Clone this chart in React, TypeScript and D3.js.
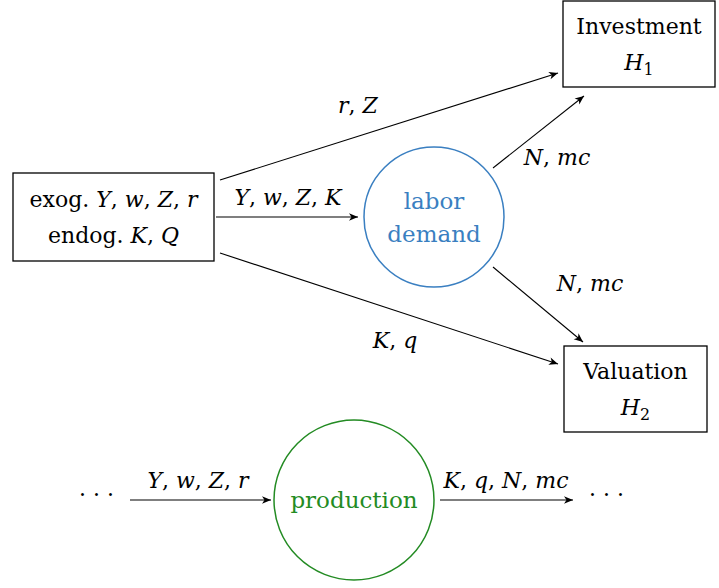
import React from "react";
import * as d3 from "d3";

// ---- data ----
const boxes = [
  { id: "input", x0: 13, y0: 173, x1: 214, y1: 261, lines: ["exog. |Y, w, Z, r", "endog. |K, Q"] },
  { id: "invest", x0: 563, y0: 1, x1: 715, y1: 87, lines: ["Investment", "|H_1"] },
  { id: "valuation", x0: 564, y0: 346, x1: 707, y1: 432, lines: ["Valuation", "|H_2"] },
];

const circles = [
  { id: "labor", cx: 434, cy: 217, r: 70, color: "#3a7fc1", lines: ["labor", "demand"] },
  { id: "production", cx: 354, cy: 500, r: 80, color: "#238b23", lines: ["production"] },
];

const edges = [
  { x0: 220, y0: 180, x1: 558, y1: 73, label: "|r, Z", lx: 358, ly: 105 },
  { x0: 216, y0: 217, x1: 358, y1: 217, label: "|Y, w, Z, K", lx: 288, ly: 197 },
  { x0: 220, y0: 253, x1: 558, y1: 364, label: "|K, q", lx: 395, ly: 340 },
  { x0: 493, y0: 168, x1: 584, y1: 96, label: "|N, mc", lx: 557, ly: 157 },
  { x0: 493, y0: 267, x1: 583, y1: 342, label: "|N, mc", lx: 590, ly: 283 },
  { x0: 130, y0: 500, x1: 271, y1: 500, label: "|Y, w, Z, r", lx: 198, ly: 480 },
  { x0: 440, y0: 500, x1: 573, y1: 500, label: "|K, q, N, mc", lx: 506, ly: 480 },
];

const dots = [
  { x: 97, y: 500 },
  { x: 607, y: 500 },
];

const FONT = "'DejaVu Serif', 'Liberation Serif', serif";
const FS = 22;
const FS_CIRCLE = 23;

// text: part before "|" is upright, part after is math (italic letters, upright commas, _ subscripts)
function renderText(s: string) {
  const idx = s.indexOf("|");
  const upright = idx >= 0 ? s.slice(0, idx) : s;
  const math = idx >= 0 ? s.slice(idx + 1) : "";
  const out: React.ReactNode[] = [];
  if (upright) out.push(<tspan key="u">{upright}</tspan>);
  let k = 0;
  for (let i = 0; i < math.length; i++) {
    const c = math[i];
    if (c === "_") {
      const sub = math[i + 1];
      out.push(
        <tspan key={k++} fontStyle="normal" fontSize={FS * 0.72} dy={5}>
          {sub}
        </tspan>
      );
      i++;
    } else if (c === ",") {
      out.push(<tspan key={k++} fontStyle="normal">{", "}</tspan>);
    } else if (c === " ") {
      // spacing handled by comma
    } else {
      out.push(<tspan key={k++} fontStyle="italic">{c}</tspan>);
    }
  }
  return out;
}

export default function App() {
  const W = 719;
  const H = 588;
  const line = d3.line();
  return (
    <svg width={W} height={H} style={{ position: "absolute", left: 0, top: 0, background: "#fff" }}>
      <defs>
        <marker id="arr" viewBox="-10 -5 12 10" refX={0} refY={0} markerWidth={12} markerHeight={10} markerUnits="userSpaceOnUse" orient="auto">
          <path d="M0,0 L-9,-3.8 L-6.5,0 L-9,3.8 Z" fill="#000" />
        </marker>
      </defs>
      <rect x={0} y={0} width={W} height={H} fill="#fff" />
      {boxes.map((b) => {
        const cx = (b.x0 + b.x1) / 2;
        const cy = (b.y0 + b.y1) / 2;
        const n = b.lines.length;
        return (
          <g key={b.id}>
            <rect x={b.x0} y={b.y0} width={b.x1 - b.x0} height={b.y1 - b.y0} fill="none" stroke="#000" strokeWidth={1.3} />
            {b.lines.map((l, i) => (
              <text key={i} x={cx} y={cy + (i - (n - 1) / 2) * 36 + 8} textAnchor="middle" fontFamily={FONT} fontSize={FS} fill="#000">
                {renderText(l)}
              </text>
            ))}
          </g>
        );
      })}
      {circles.map((c) => {
        const n = c.lines.length;
        return (
          <g key={c.id}>
            <circle cx={c.cx} cy={c.cy} r={c.r} fill="none" stroke={c.color} strokeWidth={1.5} />
            {c.lines.map((l, i) => (
              <text key={i} x={c.cx} y={c.cy + (i - (n - 1) / 2) * 33 + 8} textAnchor="middle" fontFamily={FONT} fontSize={FS_CIRCLE} fill={c.color}>
                {l}
              </text>
            ))}
          </g>
        );
      })}
      {edges.map((e, i) => (
        <g key={i}>
          <path d={line([[e.x0, e.y0], [e.x1, e.y1]]) || ""} stroke="#000" strokeWidth={1.1} fill="none" markerEnd="url(#arr)" />
          <text x={e.lx} y={e.ly + 8} textAnchor="middle" fontFamily={FONT} fontSize={FS} fill="#000">
            {renderText(e.label)}
          </text>
        </g>
      ))}
      {dots.map((d, i) => (
        <text key={i} x={d.x + 3} y={d.y + 2} textAnchor="middle" fontFamily={FONT} fontSize={FS} fill="#000" letterSpacing={7}>
          {"\u00b7\u00b7\u00b7"}
        </text>
      ))}
    </svg>
  );
}
